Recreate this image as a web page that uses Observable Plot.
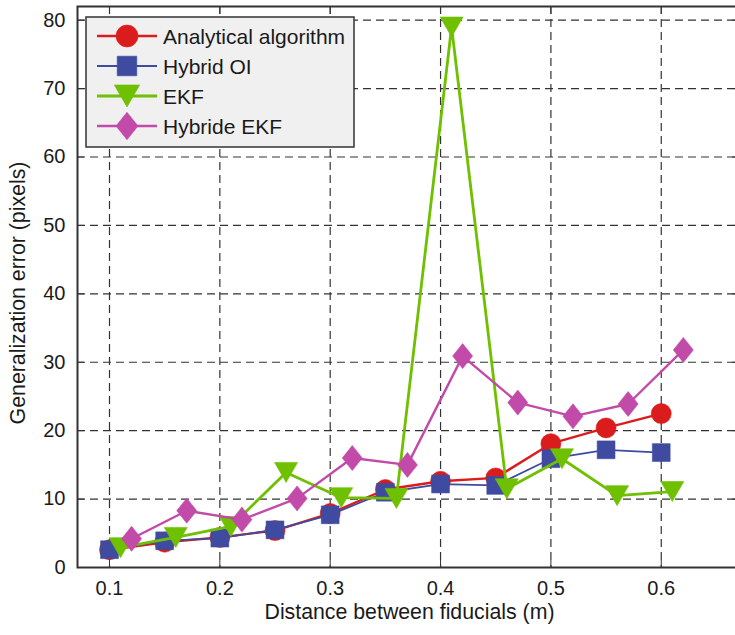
<!DOCTYPE html>
<html><head><meta charset="utf-8">
<script src="https://cdn.jsdelivr.net/npm/d3@7"></script>
<script src="https://cdn.jsdelivr.net/npm/@observablehq/plot@0.6"></script>
<style>
body{margin:0;background:#fff;}
#chart{width:735px;height:635px;position:relative;overflow:hidden;}
</style></head><body><div id="chart"></div>
<script>
// ---- data ----
const seriesNames = ["Analytical algorithm", "Hybrid OI", "EKF", "Hybride EKF"];
const analyticalX = [0.1, 0.15, 0.2, 0.25, 0.3, 0.35, 0.4, 0.45, 0.5, 0.55, 0.6];
const analyticalY = [2.6, 3.7, 4.4, 5.4, 7.9, 11.4, 12.6, 13.1, 18.1, 20.4, 22.5];
const hybridOIX = [0.1, 0.15, 0.2, 0.25, 0.3, 0.35, 0.4, 0.45, 0.5, 0.55, 0.6];
const hybridOIY = [2.6, 3.9, 4.3, 5.5, 7.7, 11.0, 12.2, 12.0, 15.9, 17.2, 16.8];
const ekfX = [0.11, 0.16, 0.21, 0.26, 0.31, 0.36, 0.41, 0.46, 0.51, 0.56, 0.61];
const ekfY = [2.9, 4.4, 6.0, 13.9, 10.2, 10.1, 79.0, 11.5, 15.9, 10.5, 11.1];
const hybrideEkfX = [0.12, 0.17, 0.22, 0.27, 0.32, 0.37, 0.42, 0.47, 0.52, 0.57, 0.62];
const hybrideEkfY = [4.2, 8.3, 7.0, 10.1, 16.0, 15.0, 30.9, 24.1, 22.1, 23.9, 31.8];
const xTicks = [0.1, 0.2, 0.3, 0.4, 0.5, 0.6];
const yTicks = [0, 10, 20, 30, 40, 50, 60, 70, 80];
const xLabel = "Distance between fiducials (m)";
const yLabel = "Generalization error (pixels)";
const colors = ["#db1c1c", "#3f4ba0", "#6ec000", "#c24aa8"];
const lineWidths = [2.4, 1.8, 2.8, 2.4];
const font = "'Liberation Sans', Arial, sans-serif";

// ---- custom marker shapes (size = pi*r^2) ----
const rad = s => Math.sqrt(s / Math.PI);
const symCircle = d3.symbolCircle;
const symSquare = {draw(c, s){ const h = rad(s) * 0.89; c.moveTo(-h,-h); c.lineTo(h,-h); c.lineTo(h,h); c.lineTo(-h,h); c.closePath(); }};
const symTriDown = {draw(c, s){ const r = rad(s); const w = r * 1.15, h = r; c.moveTo(-w,-h); c.lineTo(w,-h); c.lineTo(0,h); c.closePath(); }};
const symDiamond = {draw(c, s){ const r = rad(s); const w = r, h = r * 1.25; c.moveTo(0,-h); c.lineTo(w,0); c.lineTo(0,h); c.lineTo(-w,0); c.closePath(); }};
const symbols = [symCircle, symSquare, symTriDown, symDiamond];

const series = [
  [analyticalX, analyticalY],
  [hybridOIX, hybridOIY],
  [ekfX, ekfY],
  [hybrideEkfX, hybrideEkfY]
].map(([xs, ys], k) => xs.map((x, i) => ({x, y: ys[i], k})));

const marks = [
  Plot.gridX(xTicks, {stroke: "#333", strokeOpacity: 1, strokeWidth: 1.2, strokeDasharray: "8,5"}),
  Plot.gridY(yTicks.filter(d => d > 0), {stroke: "#333", strokeOpacity: 1, strokeWidth: 1.2, strokeDasharray: "8,5"}),
  // inward ticks
  Plot.axisX(xTicks, {anchor: "bottom", tickSize: -7, tickFormat: () => "", label: null, stroke: "#333"}),
  Plot.axisX(xTicks, {anchor: "top", tickSize: -7, tickFormat: () => "", label: null, stroke: "#333"}),
  Plot.axisY(yTicks, {anchor: "left", tickSize: -7, tickFormat: () => "", label: null, stroke: "#333"}),
  Plot.axisY(yTicks, {anchor: "right", tickSize: -7, tickFormat: () => "", label: null, stroke: "#333"}),
  // tick labels
  Plot.axisX(xTicks, {anchor: "bottom", tickSize: 0, tickPadding: 13, fontSize: 20, tickFormat: d3.format(".1f"), label: null}),
  Plot.axisY(yTicks, {anchor: "left", tickSize: 0, tickPadding: 12, fontSize: 20, label: null}),
  // axis titles
  Plot.text([xLabel], {text: d => d, frameAnchor: "bottom", lineAnchor: "middle", textAnchor: "middle", dy: 45, dx: 1.5, fontSize: 21.3, fill: "#1a1a1a"}),
  Plot.text([yLabel], {text: d => d, frameAnchor: "left", lineAnchor: "middle", textAnchor: "middle", rotate: -90, dx: -59.5, dy: 6, fontSize: 21.3, fill: "#1a1a1a"})
];
series.forEach((data, k) => {
  marks.push(Plot.line(data, {x: "x", y: "y", stroke: colors[k], strokeWidth: lineWidths[k]}));
  marks.push(Plot.dot(data, {x: "x", y: "y", r: 10, symbol: symbols[k], fill: colors[k], stroke: colors[k], strokeWidth: 0.6}));
});
marks.push(Plot.frame({stroke: "#333", strokeWidth: 2}));

const chart = Plot.plot({
  width: 735,
  height: 635,
  marginLeft: 77,
  marginRight: -3,
  marginTop: 6,
  marginBottom: 68,
  style: {fontFamily: font, fontSize: "20px", color: "#1a1a1a", background: "#fff", overflow: "visible"},
  x: {domain: [0.071, 0.67], axis: null},
  y: {domain: [0, 82], axis: null},
  marks
});
document.getElementById("chart").appendChild(chart);

// ---- legend ----
const svg = d3.select(chart);
const lg = svg.append("g").attr("font-family", font).attr("font-size", 21).attr("text-anchor", "start");
lg.append("rect").attr("x", 86).attr("y", 17).attr("width", 268).attr("height", 130)
  .attr("fill", "#f0f0f0").attr("stroke", "#333").attr("stroke-width", 1.5);
seriesNames.forEach((name, k) => {
  const cy = 36 + k * 30;
  lg.append("line").attr("x1", 97).attr("x2", 157).attr("y1", cy).attr("y2", cy)
    .attr("stroke", colors[k]).attr("stroke-width", lineWidths[k]);
  lg.append("path").attr("transform", `translate(127,${cy})`)
    .attr("d", d3.symbol(symbols[k], Math.PI * 121)())
    .attr("fill", colors[k]).attr("stroke", colors[k]).attr("stroke-width", 0.6);
  lg.append("text").attr("x", 163).attr("y", cy + 7.5).attr("text-anchor", "start").attr("fill", "#1a1a1a").text(name);
});
</script></body></html>
